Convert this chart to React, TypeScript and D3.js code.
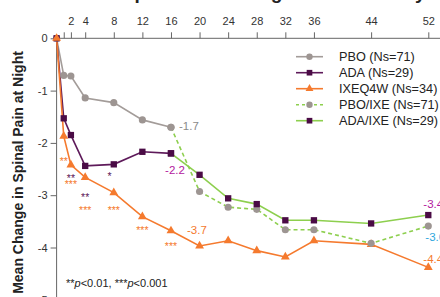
import React, { useEffect, useRef } from 'react';
import * as d3 from 'd3';

// weeks on the x axis
const WEEKS_EARLY = [0, 1, 2, 4, 8, 12, 16];
const WEEKS_ALL = [0, 1, 2, 4, 8, 12, 16, 20, 24, 28, 32, 36, 44, 52];
const WEEKS_LATE = [16, 20, 24, 28, 32, 36, 44, 52];

// mean change values
const PBO = [0, -0.71, -0.72, -1.14, -1.23, -1.56, -1.7];
const ADA = [0, -1.53, -1.85, -2.44, -2.41, -2.17, -2.2];
const IXEQ4W = [0, -1.87, -2.42, -2.66, -2.95, -3.41, -3.68, -3.97, -3.87, -4.06, -4.18, -3.87, -3.94, -4.38];
const PBO_IXE = [-1.7, -2.93, -3.23, -3.27, -3.66, -3.66, -3.92, -3.59];
const ADA_IXE = [-2.2, -2.61, -3.06, -3.17, -3.48, -3.48, -3.54, -3.38];

const X_TICKS = [1, 2, 4, 8, 12, 16, 20, 24, 28, 32, 36, 44, 52];
const Y_TICKS = [0, -1, -2, -3, -4, -5];

const LEGEND = ['PBO (Ns=71)', 'ADA (Ns=29)', 'IXEQ4W (Ns=34)', 'PBO/IXE (Ns=71)', 'ADA/IXE (Ns=29)'];

// significance markers (week, value at text baseline)
const ADA_STAR_WEEKS = [2, 4, 7.4];
const ADA_STAR_VALUES = [-2.75, -3.12, -2.71];
const ADA_STARS = ['**', '**', '*'];
const IXE_STAR_WEEKS = [1, 2, 4, 8, 12, 16];
const IXE_STAR_VALUES = [-2.42, -2.86, -3.36, -3.36, -3.74, -4.05];
const IXE_STARS = ['**', '***', '***', '***', '***', '***'];

const GRAY = '#a39c99';
const GRAY_DOT = '#9d9592';
const PURPLE = '#5e1a5a';
const PURPLE_DOT = '#4a0b45';
const ORANGE = '#f57a2e';
const GREEN = '#8dcf4e';
const MAGENTA = '#b3199e';
const BLUE = '#2ea6dd';

const W = 440;
const H = 297;

const App = () => {
  const ref = useRef<SVGSVGElement>(null);

  useEffect(() => {
    const svg = d3.select(ref.current);
    svg.selectAll('*').remove();

    const x = d3.scaleLinear().domain([0, 52]).range([56.6, 428.3]);
    const y = d3.scaleLinear().domain([0, -5]).range([38.3, 299.8]);

    // cut-off title at the very top
    svg.append('text')
      .attr('x', 1.5)
      .attr('y', -1)
      .attr('font-size', 19)
      .attr('font-weight', 'bold')
      .attr('fill', '#222')
      .text('Reduction in Spinal Pain at Night Over Time by Week');

    // top axis
    const xAxis = svg.append('g')
      .attr('transform', `translate(0, ${y(0)})`)
      .call(d3.axisTop(x).tickValues(X_TICKS).tickSize(6).tickPadding(7)
        .tickFormat((d: any) => (d === 1 ? '' : String(d))));
    xAxis.select('.domain').remove();
    xAxis.append('line').attr('x1', x(0)).attr('x2', W).attr('stroke', '#666');
    xAxis.selectAll('line').attr('stroke', '#666');
    xAxis.selectAll('text').attr('font-size', 11).attr('fill', '#333').attr('font-family', 'Liberation Sans, Arial, sans-serif');

    // left axis
    const yAxis = svg.append('g')
      .attr('transform', `translate(${x(0)}, 0)`)
      .call(d3.axisLeft(y).tickValues(Y_TICKS).tickSize(6).tickPadding(3)
        .tickFormat((d: any) => String(d)));
    yAxis.select('.domain').remove();
    yAxis.append('line').attr('y1', y(0)).attr('y2', H).attr('stroke', '#666');
    yAxis.selectAll('line').attr('stroke', '#666');
    yAxis.selectAll('text').attr('font-size', 11).attr('fill', '#333').attr('font-family', 'Liberation Sans, Arial, sans-serif');

    svg.append('text')
      .attr('transform', `translate(23, ${(H + 48) / 2}) rotate(-90)`)
      .attr('text-anchor', 'middle')
      .attr('font-size', 14)
      .attr('font-weight', 'bold')
      .attr('fill', '#222')
      .text('Mean Change in Spinal Pain at Night');

    const line = d3.line<[number, number]>().x(d => x(d[0])).y(d => y(d[1]));
    const zip = (w: number[], v: number[]) => w.map((wk, i) => [wk, v[i]] as [number, number]);

    const series = [
      { pts: zip(WEEKS_EARLY, PBO), stroke: GRAY, dash: null, shape: d3.symbolCircle, fill: GRAY_DOT, size: 40 },
      { pts: zip(WEEKS_EARLY, ADA), stroke: PURPLE, dash: null, shape: d3.symbolSquare, fill: PURPLE_DOT, size: 40 },
      { pts: zip(WEEKS_ALL, IXEQ4W), stroke: ORANGE, dash: null, shape: d3.symbolTriangle, fill: ORANGE, size: 34 },
      { pts: zip(WEEKS_LATE, PBO_IXE), stroke: GREEN, dash: '4,3', shape: d3.symbolCircle, fill: GRAY_DOT, size: 40 },
      { pts: zip(WEEKS_LATE, ADA_IXE), stroke: GREEN, dash: null, shape: d3.symbolSquare, fill: PURPLE_DOT, size: 40 },
    ];

    series.forEach(s => {
      svg.append('path')
        .attr('d', line(s.pts))
        .attr('fill', 'none')
        .attr('stroke', s.stroke)
        .attr('stroke-width', 1.6)
        .attr('stroke-dasharray', s.dash);
    });
    series.forEach(s => {
      svg.selectAll(null)
        .data(s.pts)
        .enter()
        .append('path')
        .attr('d', d3.symbol().type(s.shape).size(s.size))
        .attr('transform', d => `translate(${x(d[0])}, ${y(d[1])})`)
        .attr('fill', s.fill);
    });

    // legend
    const lg = svg.append('g');
    series.forEach((s, i) => {
      const ly = 56.7 + i * 16;
      lg.append('line')
        .attr('x1', 296).attr('x2', 323).attr('y1', ly).attr('y2', ly)
        .attr('stroke', s.stroke).attr('stroke-width', 1.6)
        .attr('stroke-dasharray', s.dash ? '3,3' : null);
      lg.append('path')
        .attr('d', d3.symbol().type(s.shape).size(s.size * 0.8))
        .attr('transform', `translate(309.5, ${ly})`)
        .attr('fill', s.fill);
      lg.append('text')
        .attr('x', 339).attr('y', ly + 4.5)
        .attr('font-size', 12.7)
        .attr('fill', '#222')
        .text(LEGEND[i]);
    });

    // value labels
    const labels = [
      { w: 16, v: PBO[6], text: '-1.7', color: '#8a8a8a', dx: 8, dy: 3, anchor: 'start' },
      { w: 16, v: ADA[6], text: '-2.2', color: MAGENTA, dx: 4, dy: 21, anchor: 'middle' },
      { w: 16, v: IXEQ4W[6], text: '-3.7', color: ORANGE, dx: 16, dy: 3, anchor: 'start' },
      { w: 52, v: ADA_IXE[7], text: '-3.4', color: MAGENTA, dx: -5, dy: -7, anchor: 'start' },
      { w: 52, v: PBO_IXE[7], text: '-3.6', color: BLUE, dx: -3, dy: 14.5, anchor: 'start' },
      { w: 52, v: IXEQ4W[13], text: '-4.4', color: ORANGE, dx: -5, dy: -4.5, anchor: 'start' },
    ];
    labels.forEach(l => {
      svg.append('text')
        .attr('x', x(l.w) + l.dx)
        .attr('y', y(l.v) + l.dy)
        .attr('text-anchor', l.anchor)
        .attr('font-size', 11.5)
        .attr('fill', l.color)
        .text(l.text);
    });

    // stars
    const stars = (weeks: number[], vals: number[], txt: string[], color: string) => {
      weeks.forEach((wk, i) => {
        svg.append('text')
          .attr('x', x(wk))
          .attr('y', y(vals[i]))
          .attr('text-anchor', 'middle')
          .attr('font-size', 10.5)
          .attr('fill', color)
          .text(txt[i]);
      });
    };
    stars(ADA_STAR_WEEKS, ADA_STAR_VALUES, ADA_STARS, PURPLE);
    stars(IXE_STAR_WEEKS, IXE_STAR_VALUES, IXE_STARS, ORANGE);

    // footnote
    const fn = svg.append('text').attr('x', 66).attr('y', 287).attr('font-size', 11).attr('fill', '#222');
    fn.append('tspan').text('**');
    fn.append('tspan').attr('font-style', 'italic').text('p');
    fn.append('tspan').text('<0.01, ***');
    fn.append('tspan').attr('font-style', 'italic').text('p');
    fn.append('tspan').text('<0.001');
  }, []);

  return (
    <svg
      ref={ref}
      width={W}
      height={H}
      style={{ position: 'absolute', left: 0, top: 0, background: '#fff', fontFamily: 'Liberation Sans, Arial, sans-serif' }}
    />
  );
};

export default App;
